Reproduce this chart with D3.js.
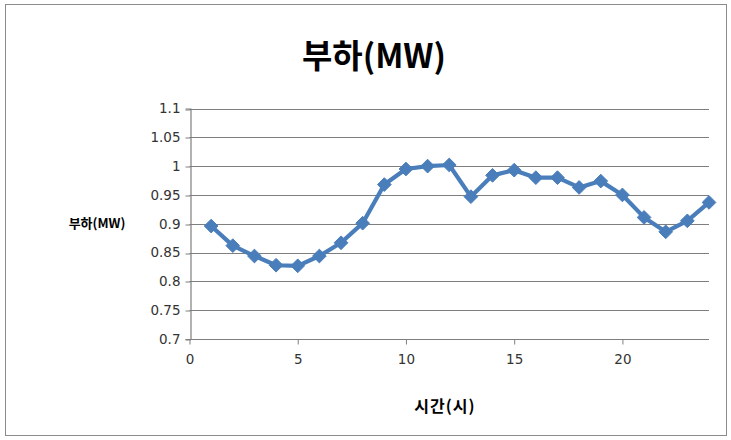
<!DOCTYPE html>
<html>
<head>
<meta charset="utf-8">
<script src="https://cdn.jsdelivr.net/npm/d3@7"></script>
<style>
  html, body { margin: 0; padding: 0; background: #fff; }
  svg { display: block; }
</style>
</head>
<body>
<svg id="chart" width="731" height="440"></svg>
<script>
const hours = [1,2,3,4,5,6,7,8,9,10,11,12,13,14,15,16,17,18,19,20,21,22,23,24];
const loads = [0.896,0.862,0.844,0.828,0.827,0.844,0.867,0.901,0.968,0.995,1.0,1.002,0.947,0.984,0.993,0.980,0.980,0.963,0.974,0.950,0.911,0.886,0.905,0.937];
const xTicks = [0,5,10,15,20];
const yTicks = [0.7,0.75,0.8,0.85,0.9,0.95,1,1.05,1.1];
const yTickLabels = ["0.7","0.75","0.8","0.85","0.9","0.95","1","1.05","1.1"];
const title = "부하(MW)";
const yTitle = "부하(MW)";
const xTitle = "시간(시)";

const svg = d3.select("#chart");
const x = d3.scaleLinear().domain([0,24]).range([189.5,709]);
const y = d3.scaleLinear().domain([0.7,1.1]).range([339,108.5]);

// outer border
svg.append("rect").attr("x",5.5).attr("y",4.5).attr("width",721).attr("height",431)
  .attr("fill","#fff").attr("stroke","#8c8c8c").attr("stroke-width",1);

const gridColor = "#7f7f7f";
// gridlines
svg.append("g").selectAll("line").data(yTicks.slice(1)).join("line")
  .attr("x1",x(0)).attr("x2",x(24))
  .attr("y1",d=>Math.round(y(d))+0.5).attr("y2",d=>Math.round(y(d))+0.5)
  .attr("stroke",gridColor).attr("stroke-width",1.2);

const font = "'DejaVu Sans', sans-serif";

// y axis
const yAxis = d3.axisLeft(y).tickValues(yTicks).tickSize(5).tickPadding(5)
  .tickFormat((d,i)=>yTickLabels[i]);
const gy = svg.append("g").attr("transform",`translate(${Math.round(x(0))+0.5},0)`).call(yAxis);
gy.selectAll("line").attr("stroke",gridColor).attr("transform",d=>`translate(0,${Math.round(y(d))+0.5-y(d)})`);
gy.select(".domain").attr("stroke",gridColor).attr("stroke-width",1.2);
gy.selectAll("text").attr("fill","#333").style("font-family",font).style("font-size","13.5px");

// x axis
const xAxis = d3.axisBottom(x).tickValues(xTicks).tickSize(5).tickPadding(10).tickFormat(d3.format("d"));
const gx = svg.append("g").attr("transform",`translate(0,${Math.round(y(0.7))+0.5})`).call(xAxis);
gx.select(".domain").attr("stroke",gridColor).attr("stroke-width",1.2).attr("d",`M${x(0)},0H${x(24)}`);
gx.selectAll("line").attr("stroke",gridColor);
gx.selectAll("text").attr("fill","#333").style("font-family",font).style("font-size","13.5px");

// line
const line = d3.line().x((d,i)=>x(hours[i])).y(d=>y(d));
svg.append("path").datum(loads).attr("d",line)
  .attr("fill","none").attr("stroke","#4a7ebb").attr("stroke-width",4.2)
  .attr("stroke-linejoin","round");

// diamond markers
const sym = d3.symbol().type(d3.symbolDiamond2).size(120);
svg.append("g").selectAll("path").data(loads).join("path")
  .attr("d",sym)
  .attr("transform",(d,i)=>`translate(${x(hours[i])},${y(d)})`)
  .attr("fill","#4a7ebb").attr("stroke","#4a7ebb").attr("stroke-width",1);

// titles
const kfont = "'Noto Sans CJK KR', 'Noto Sans', sans-serif";
svg.append("text").attr("x",374).attr("y",68).attr("text-anchor","middle")
  .style("font-family",kfont).style("font-weight","bold").style("font-size","33px")
  .attr("fill","#000").text(title);
svg.append("text").attr("x",97).attr("y",228).attr("text-anchor","middle")
  .style("font-family",kfont).style("font-weight","bold").style("font-size","13px")
  .attr("fill","#000").text(yTitle);
svg.append("text").attr("x",445).attr("y",412).attr("text-anchor","middle")
  .style("font-family",kfont).style("font-weight","bold").style("font-size","16px")
  .style("letter-spacing","1px")
  .attr("fill","#000").text(xTitle);
</script>
</body>
</html>
